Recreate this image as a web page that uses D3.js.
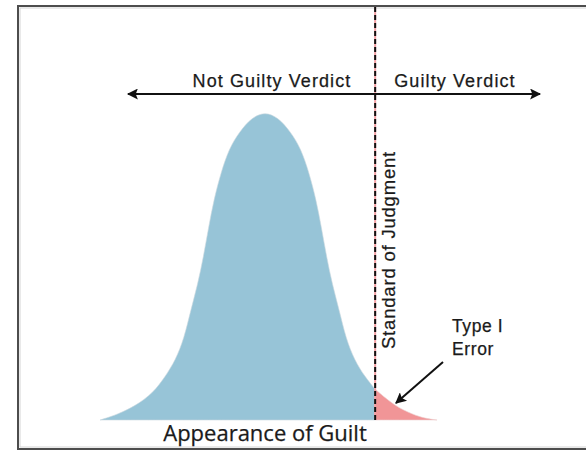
<!DOCTYPE html>
<html>
<head>
<meta charset="utf-8">
<script src="https://cdn.jsdelivr.net/npm/d3@7"></script>
<style>
  body { margin: 0; background: #fff; }
  text { font-family: "Liberation Sans", Arial, sans-serif; fill: #1a1a1a; stroke: #1a1a1a; stroke-width: 0.25; }
</style>
</head>
<body>
<div id="chart"></div>
<script>
// appearance of guilt (0-100) and relative frequency (peak = 100)
const guilt   = [1.5, 3, 6.5, 11.8, 17.1, 20.6, 23.7, 26.2, 28.2, 30.2, 31.9, 33.4, 35, 37.1, 39.4, 42.4, 46.2, 50,
                 53.8, 57.6, 60.6, 62.9, 65, 66.6, 68.1, 69.8, 71.8, 73.8, 76.3, 79.4, 82.4, 88.2, 93.5, 97.1, 100.6];
const density = [0, 0.5, 1.8, 4.5, 8.8, 14, 19.5, 26.5, 35.8, 44, 53, 62.5, 71.7, 80.5, 88, 93.5, 98.3, 100,
                 98.3, 93.5, 88, 80.5, 71.7, 62.5, 53, 44, 35.8, 26.5, 19.5, 14, 10, 4.5, 1.8, 0.5, 0];
const standard = 82.4;
const verdicts = ["Not Guilty Verdict", "Guilty Verdict"];

const W = 586, H = 452;
const svg = d3.select("#chart").append("svg").attr("width", W).attr("height", H);

const x = d3.scaleLinear().domain([0, 100]).range([95, 435]);
const y = d3.scaleLinear().domain([0, 100]).range([420, 112]);

const pts = guilt.map((g, i) => ({ g: g, d: density[i] }));

// frame
svg.append("rect").attr("x", 18).attr("y", 6).attr("width", W).attr("height", 443)
  .attr("fill", "none").attr("stroke", "#4d4d4d").attr("stroke-width", 2);
svg.append("rect").attr("x", 20).attr("y", 8).attr("width", W).attr("height", 439)
  .attr("fill", "none").attr("stroke", "#d4d4d4").attr("stroke-width", 1);

const area = d3.area().x(d => x(d.g)).y0(y(0)).y1(d => y(d.d)).curve(d3.curveBasis);

svg.append("path").datum(pts.filter(p => p.g <= standard))
  .attr("d", area).attr("fill", "#97c4d7").attr("stroke", "#cbd9df").attr("stroke-width", 0.6);
svg.append("path").datum(pts.filter(p => p.g >= standard))
  .attr("d", area).attr("fill", "#f19597").attr("stroke", "#ecd2d2").attr("stroke-width", 0.6);

// standard of judgment line
svg.append("line").attr("x1", x(standard)).attr("x2", x(standard)).attr("y1", 7).attr("y2", y(0))
  .attr("stroke", "#f3a0a4").attr("stroke-width", 2);
svg.append("line").attr("x1", x(standard)).attr("x2", x(standard)).attr("y1", 7).attr("y2", y(0))
  .attr("stroke", "#111").attr("stroke-width", 2).attr("stroke-dasharray", "5,3");

svg.append("text")
  .attr("transform", `translate(${x(standard) + 20},250) rotate(-90)`)
  .attr("text-anchor", "middle").attr("font-size", 18.5).attr("letter-spacing", 0.8)
  .text("Standard of Judgment");

// verdict arrow
const defs = svg.append("defs");
defs.append("marker").attr("id", "head").attr("viewBox", "0 0 10 10")
  .attr("refX", 9).attr("refY", 5).attr("markerWidth", 7).attr("markerHeight", 5.5)
  .attr("markerUnits", "strokeWidth").attr("orient", "auto-start-reverse")
  .append("path").attr("d", "M0,0 L10,5 L0,10 L2,5 Z").attr("fill", "#111");

svg.append("line").attr("x1", 128).attr("x2", 540).attr("y1", 94).attr("y2", 94)
  .attr("stroke", "#111").attr("stroke-width", 2)
  .attr("marker-start", "url(#head)").attr("marker-end", "url(#head)");

svg.append("text").attr("x", 272).attr("y", 87).attr("text-anchor", "middle")
  .attr("font-size", 18).attr("letter-spacing", 1.1).text(verdicts[0]);
svg.append("text").attr("x", 455).attr("y", 87).attr("text-anchor", "middle")
  .attr("font-size", 18).attr("letter-spacing", 1.1).text(verdicts[1]);

// type I error callout
svg.append("text").attr("x", 452).attr("y", 332).attr("font-size", 17.5).attr("letter-spacing", 0.6).text("Type I");
svg.append("text").attr("x", 452).attr("y", 355).attr("font-size", 17.5).attr("letter-spacing", 0.6).text("Error");
svg.append("line").attr("x1", 443).attr("y1", 362).attr("x2", 396).attr("y2", 403)
  .attr("stroke", "#111").attr("stroke-width", 2).attr("marker-end", "url(#head)");

// axis title
svg.append("text").attr("x", 265).attr("y", 441).attr("text-anchor", "middle")
  .style("font-family", "'Open Sans', sans-serif").attr("font-size", 22).text("Appearance of Guilt");
</script>
</body>
</html>
